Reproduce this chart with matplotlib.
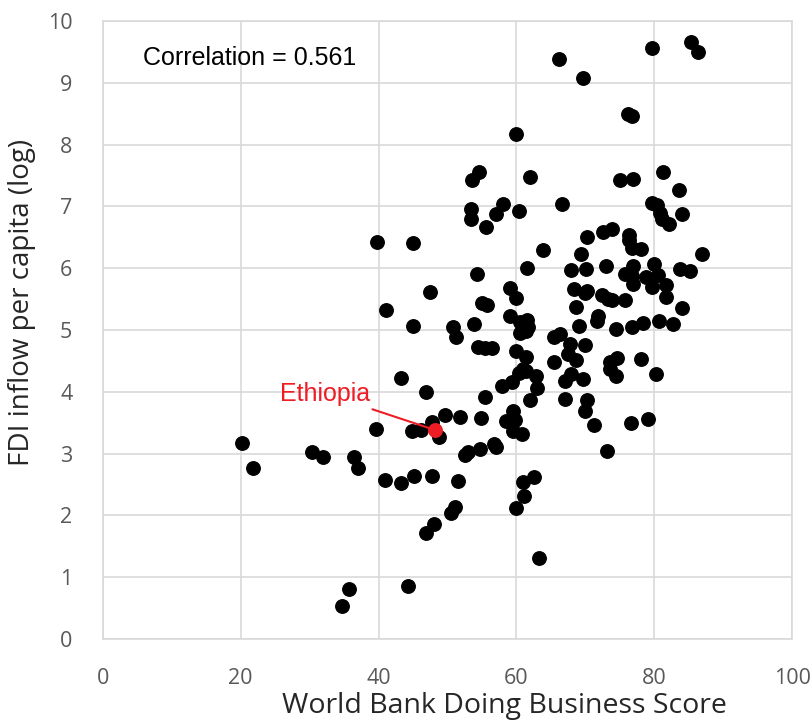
import matplotlib
matplotlib.use("Agg")
import matplotlib.pyplot as plt

# Doing Business score (x) and log FDI inflow per capita (y)
score = [66.2, 69.7, 79.7, 85.3, 86.3, 76.2, 76.7, 60.0, 54.6, 53.6,
         61.9, 75.0, 76.9, 81.3, 83.6, 53.4, 53.4, 58.0, 57.1, 55.6,
         60.3, 66.6, 79.6, 80.4, 80.8, 81.1, 82.1, 84.0, 39.8, 45.0,
         63.8, 70.2, 72.5, 73.8, 76.3, 76.3, 76.7, 78.0, 69.3, 86.9,
         61.5, 54.3, 67.9, 70.1, 73.0, 76.9, 75.8, 76.8, 76.9, 79.9,
         78.8, 80.5, 79.7, 81.7, 81.7, 83.7, 85.2, 47.5, 41.1, 59.1,
         60.0, 68.4, 70.0, 70.3, 72.4, 73.3, 73.8, 75.7, 84.0, 55.0,
         55.7, 68.7, 45.0, 50.8, 51.2, 53.9, 59.1, 60.5, 61.5, 60.5,
         61.7, 61.4, 69.1, 71.9, 71.7, 74.5, 76.8, 78.3, 80.7, 82.7,
         54.4, 55.5, 56.4, 60.0, 61.4, 65.4, 66.3, 67.8, 70.0, 67.5,
         68.7, 65.5, 73.5, 74.6, 73.6, 74.5, 78.1, 80.2, 61.0, 57.9,
         59.3, 60.3, 61.4, 62.8, 63.0, 67.0, 67.9, 69.7, 55.4, 46.9,
         43.2, 61.9, 67.0, 70.2, 70.0, 71.2, 76.6, 79.1, 73.2, 49.6,
         51.8, 54.8, 58.5, 59.5, 59.8, 59.5, 60.8, 52.5, 53.0, 54.7,
         56.8, 57.0, 45.1, 47.8, 51.5, 61.0, 62.6, 61.1, 59.9, 51.1,
         50.5, 48.1, 46.9, 63.3, 44.3, 20.2, 21.8, 30.4, 31.9, 36.4,
         37.0, 39.6, 40.9, 43.2, 35.7, 34.7, 44.8, 46.2, 47.7, 48.7]
fdi = [9.39, 9.07, 9.57, 9.66, 9.49, 8.50, 8.46, 8.17, 7.55, 7.43,
       7.47, 7.42, 7.45, 7.55, 7.26, 6.96, 6.79, 7.03, 6.87, 6.66,
       6.93, 7.04, 7.06, 7.02, 6.89, 6.79, 6.71, 6.88, 6.42, 6.40,
       6.30, 6.50, 6.59, 6.63, 6.54, 6.45, 6.33, 6.31, 6.23, 6.23,
       6.00, 5.90, 5.97, 5.98, 6.03, 6.03, 5.90, 5.87, 5.74, 6.06,
       5.86, 5.89, 5.69, 5.73, 5.53, 5.98, 5.95, 5.61, 5.33, 5.68,
       5.52, 5.67, 5.59, 5.63, 5.56, 5.50, 5.49, 5.48, 5.35, 5.43,
       5.40, 5.37, 5.06, 5.05, 4.89, 5.09, 5.22, 5.13, 5.16, 4.95,
       5.05, 4.99, 5.06, 5.22, 5.14, 5.01, 5.05, 5.11, 5.14, 5.10,
       4.72, 4.71, 4.71, 4.66, 4.56, 4.89, 4.94, 4.77, 4.75, 4.61,
       4.52, 4.48, 4.48, 4.55, 4.37, 4.25, 4.53, 4.29, 4.37, 4.09,
       4.16, 4.31, 4.33, 4.25, 4.06, 4.17, 4.29, 4.21, 3.91, 4.00,
       4.23, 3.87, 3.89, 3.86, 3.69, 3.46, 3.49, 3.56, 3.04, 3.63,
       3.59, 3.57, 3.53, 3.69, 3.55, 3.36, 3.32, 2.98, 3.03, 3.08,
       3.16, 3.11, 2.63, 2.63, 2.56, 2.54, 2.62, 2.31, 2.12, 2.14,
       2.04, 1.86, 1.72, 1.31, 0.85, 3.17, 2.77, 3.03, 2.95, 2.95,
       2.76, 3.40, 2.57, 2.53, 0.81, 0.54, 3.37, 3.38, 3.51, 3.27]

eth_score = [48.2]
eth_fdi = [3.38]
eth_label = "Ethiopia"
corr_label = "Correlation = 0.561"

x_ticks = [0, 20, 40, 60, 80, 100]
y_ticks = list(range(0, 11))

fig = plt.figure(figsize=(8.10, 7.22), dpi=100)
ax = fig.add_axes([0.127, 0.115, 0.851, 0.856])

ax.plot(score, fdi, 'o', color='black', markersize=9.7, linestyle='none', zorder=3)
ax.plot(eth_score, eth_fdi, 'o', color='#ee1c25', markersize=9.7, linestyle='none', zorder=4)

ax.set_xlim(0, 100)
ax.set_ylim(0, 10)
ax.set_xticks(x_ticks)
ax.set_yticks(y_ticks)
ax.grid(True, color='#d9d9d9', linewidth=1.2, zorder=0)
ax.set_axisbelow(True)
for s in ax.spines.values():
    s.set_color('#d9d9d9')
    s.set_linewidth(1.2)
ax.tick_params(length=0, labelsize=15.5, labelcolor='#595959')
ax.tick_params(axis='x', pad=21)
ax.tick_params(axis='y', pad=22)
for lab in ax.get_xticklabels() + ax.get_yticklabels():
    lab.set_fontfamily('Open Sans')

ax.set_xlabel("World Bank Doing Business Score", fontsize=20.5, family='Open Sans',
              color='#262626', va='center')
ax.xaxis.set_label_coords(0.582, -0.108)
ax.set_ylabel("FDI inflow per capita (log)", fontsize=20, family='Open Sans',
              color='#262626', va='center')
ax.yaxis.set_label_coords(-0.118, 0.545)

ax.text(5.8, 9.4, corr_label, fontsize=18, family='Liberation Sans',
        color='black', ha='left', va='center')

ax.annotate(eth_label, xy=(eth_score[0], eth_fdi[0]), xytext=(38.8, 3.97),
            fontsize=18, family='Liberation Sans', color='#ee1c25',
            ha='right', va='center',
            arrowprops=dict(arrowstyle='-', color='#ee1c25', lw=1.5,
                            shrinkA=2, shrinkB=0))

fig.savefig("out.png", dpi=100)
